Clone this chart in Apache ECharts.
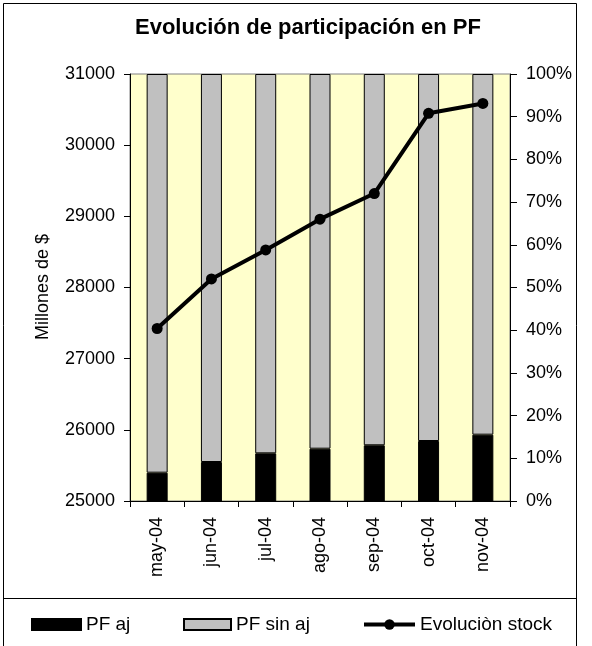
<!DOCTYPE html>
<html><head><meta charset="utf-8">
<script src="https://cdn.jsdelivr.net/npm/echarts@6/dist/echarts.min.js"></script>
<style>html,body{margin:0;padding:0;background:#fff}#c{width:592px;height:646px}</style>
</head><body><div id="c"></div>
<script>
const titleText = 'Evolución de participación en PF';
const categories = ['may-04', 'jun-04', 'jul-04', 'ago-04', 'sep-04', 'oct-04', 'nov-04'];
const pfAj = [25398, 25548, 25670, 25735, 25783, 25843, 25932];
const pfSinAj = [5602, 5452, 5330, 5265, 5217, 5157, 5068];
const evolucionStock = [0.404, 0.52, 0.588, 0.66, 0.72, 0.908, 0.931];
const leftAxisRange = [25000, 31000, 1000];
const rightAxisRange = [0, 1, 0.1];
const seriesNames = ['PF aj', 'PF sin aj', 'Evoluciòn stock'];

const FONT = "'Liberation Sans', Arial, sans-serif";
const chart = echarts.init(document.getElementById('c'), null, { renderer: 'canvas' });

const legendText = { fontSize: 19, fontFamily: FONT, color: '#000' };

chart.setOption({
  animation: false,
  backgroundColor: '#ffffff',
  textStyle: { fontFamily: FONT, color: '#000' },
  grid: {
    left: 130, right: 82, top: 74, bottom: 145,
    show: true, backgroundColor: '#FFFFCC', borderColor: '#808080', borderWidth: 1
  },
  graphic: [
    { type: 'rect', shape: { x: 3.5, y: 3.5, width: 573, height: 700 }, style: { fill: null, stroke: '#000', lineWidth: 1 }, z: 0, silent: true },
    { type: 'line', shape: { x1: 3.5, y1: 598.5, x2: 576.5, y2: 598.5 }, style: { stroke: '#000', lineWidth: 1 }, silent: true },
    { type: 'text', x: 308, y: 28, style: { text: titleText, font: "bold 22px " + FONT, fill: '#000', textAlign: 'center', textVerticalAlign: 'middle' }, silent: true },
    { type: 'text', x: 43, y: 287, rotation: Math.PI / 2, style: { text: 'Millones de $', font: "18px " + FONT, fill: '#000', textAlign: 'center', textVerticalAlign: 'middle' }, silent: true }
  ],
  legend: [
    { data: [{ name: seriesNames[0], icon: 'rect' }], left: 31, top: 615, padding: 0, itemWidth: 49, itemHeight: 11, itemGap: 0, textStyle: legendText, selectedMode: false },
    { data: [{ name: seriesNames[1], icon: 'rect' }], left: 183, top: 615, padding: 0, itemWidth: 47, itemHeight: 11, itemGap: 0, textStyle: legendText, selectedMode: false },
    { data: [seriesNames[2]], left: 362, top: 615, padding: 0, itemWidth: 51, itemHeight: 13, itemGap: 0, textStyle: legendText, selectedMode: false,
      lineStyle: { width: 4 } }
  ],
  xAxis: {
    type: 'category', data: categories, boundaryGap: true,
    axisLine: { lineStyle: { color: '#000', width: 1 } },
    axisTick: { show: true, length: 6, lineStyle: { color: '#000' } },
    axisLabel: { rotate: 90, fontSize: 18, color: '#000', fontFamily: FONT, margin: 16 },
    splitLine: { show: false }
  },
  yAxis: [
    {
      type: 'value', min: leftAxisRange[0], max: leftAxisRange[1], interval: leftAxisRange[2],
      axisLine: { show: true, lineStyle: { color: '#000' } },
      axisTick: { show: true, length: 6, lineStyle: { color: '#000' } },
      axisLabel: { fontSize: 18, color: '#000', fontFamily: FONT, margin: 15, formatter: v => String(v) },
      splitLine: { show: false }
    },
    {
      type: 'value', position: 'right', min: rightAxisRange[0], max: rightAxisRange[1], interval: rightAxisRange[2],
      axisLine: { show: true, lineStyle: { color: '#000' } },
      axisTick: { show: true, length: 7, lineStyle: { color: '#000' } },
      axisLabel: { fontSize: 18, color: '#000', fontFamily: FONT, margin: 16, formatter: v => Math.round(v * 100) + '%' },
      splitLine: { show: false }
    }
  ],
  series: [
    {
      name: seriesNames[0], type: 'bar', stack: 'pf', data: pfAj, barWidth: 21, clip: true,
      itemStyle: { color: '#000000', borderColor: '#000', borderWidth: 1 }
    },
    {
      name: seriesNames[1], type: 'bar', stack: 'pf', data: pfSinAj, barWidth: 21, clip: true,
      itemStyle: { color: '#C0C0C0', borderColor: '#000', borderWidth: 1 }
    },
    {
      name: seriesNames[2], type: 'line', yAxisIndex: 1, data: evolucionStock,
      symbol: 'circle', symbolSize: 11,
      lineStyle: { color: '#000', width: 4 },
      itemStyle: { color: '#000' }
    }
  ]
});
</script>
</body></html>
